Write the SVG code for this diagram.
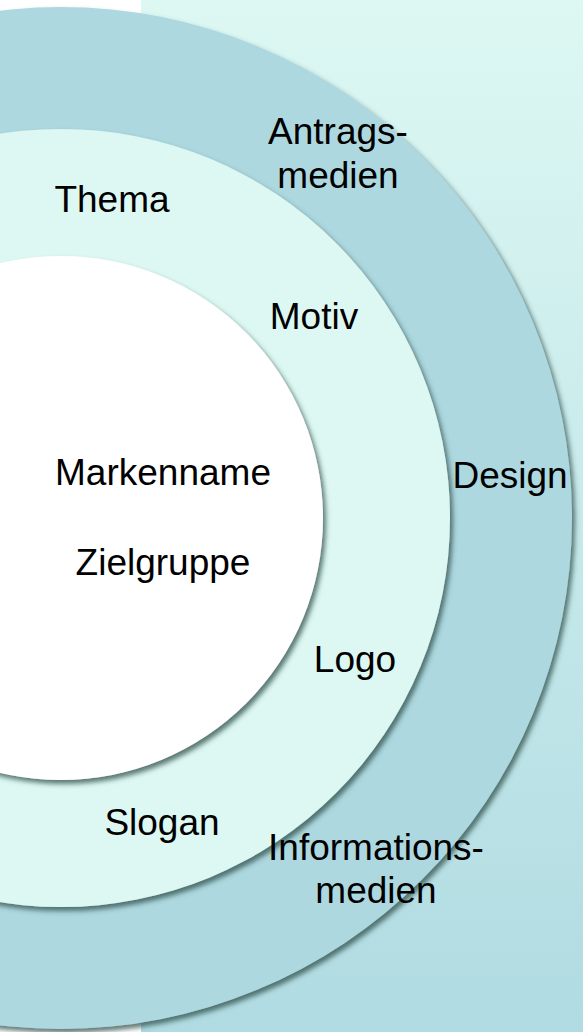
<svg xmlns="http://www.w3.org/2000/svg" width="583" height="1032" viewBox="0 0 583 1032">
  <defs>
    <linearGradient id="panel" x1="0" y1="0" x2="0" y2="1">
      <stop offset="0" stop-color="#DDF8F3"/>
      <stop offset="1" stop-color="#B0DBE2"/>
    </linearGradient>
    <filter id="shadow" x="-20%" y="-20%" width="140%" height="140%">
      <feGaussianBlur in="SourceAlpha" stdDeviation="2.5"/>
      <feOffset dx="3" dy="4" result="b"/>
      <feFlood flood-color="#2F4F4A" flood-opacity="0.75"/>
      <feComposite in2="b" operator="in"/>
      <feMerge>
        <feMergeNode/>
        <feMergeNode in="SourceGraphic"/>
      </feMerge>
    </filter>
  </defs>
  <style>
    text { font-family: "Liberation Sans", Arial, sans-serif; font-size: 37px; fill: #000; text-anchor: middle; }
    .outer { fill: #ADD8E0; }
    .middle { fill: #DDF8F2; }
    .inner { fill: #FFFFFF; }
  </style>
  <rect x="0" y="0" width="583" height="1032" fill="#FFFFFF"/>
  <rect x="141" y="0" width="442" height="1032" fill="url(#panel)"/>

  <g id="ring-outer">
    <circle class="outer" cx="61" cy="518" r="511" filter="url(#shadow)"/>
  </g>
  <g id="ring-middle">
    <circle class="middle" cx="61" cy="518" r="389" filter="url(#shadow)"/>
  </g>
  <g id="ring-inner">
    <circle class="inner" cx="61" cy="518" r="262" filter="url(#shadow)"/>
  </g>

  <g id="connectors"></g>

  <g id="label-antragsmedien">
    <text x="338" y="144">Antrags-</text>
    <text x="338" y="188">medien</text>
  </g>
  <g id="label-thema"><text x="112" y="212">Thema</text></g>
  <g id="label-motiv"><text x="314" y="329">Motiv</text></g>
  <g id="label-markenname"><text x="163" y="485">Markenname</text></g>
  <g id="label-zielgruppe"><text x="163" y="575">Zielgruppe</text></g>
  <g id="label-design"><text x="510" y="488">Design</text></g>
  <g id="label-logo"><text x="355" y="672">Logo</text></g>
  <g id="label-slogan"><text x="162" y="835">Slogan</text></g>
  <g id="label-informationsmedien">
    <text x="376" y="860">Informations-</text>
    <text x="376" y="903">medien</text>
  </g>
</svg>
